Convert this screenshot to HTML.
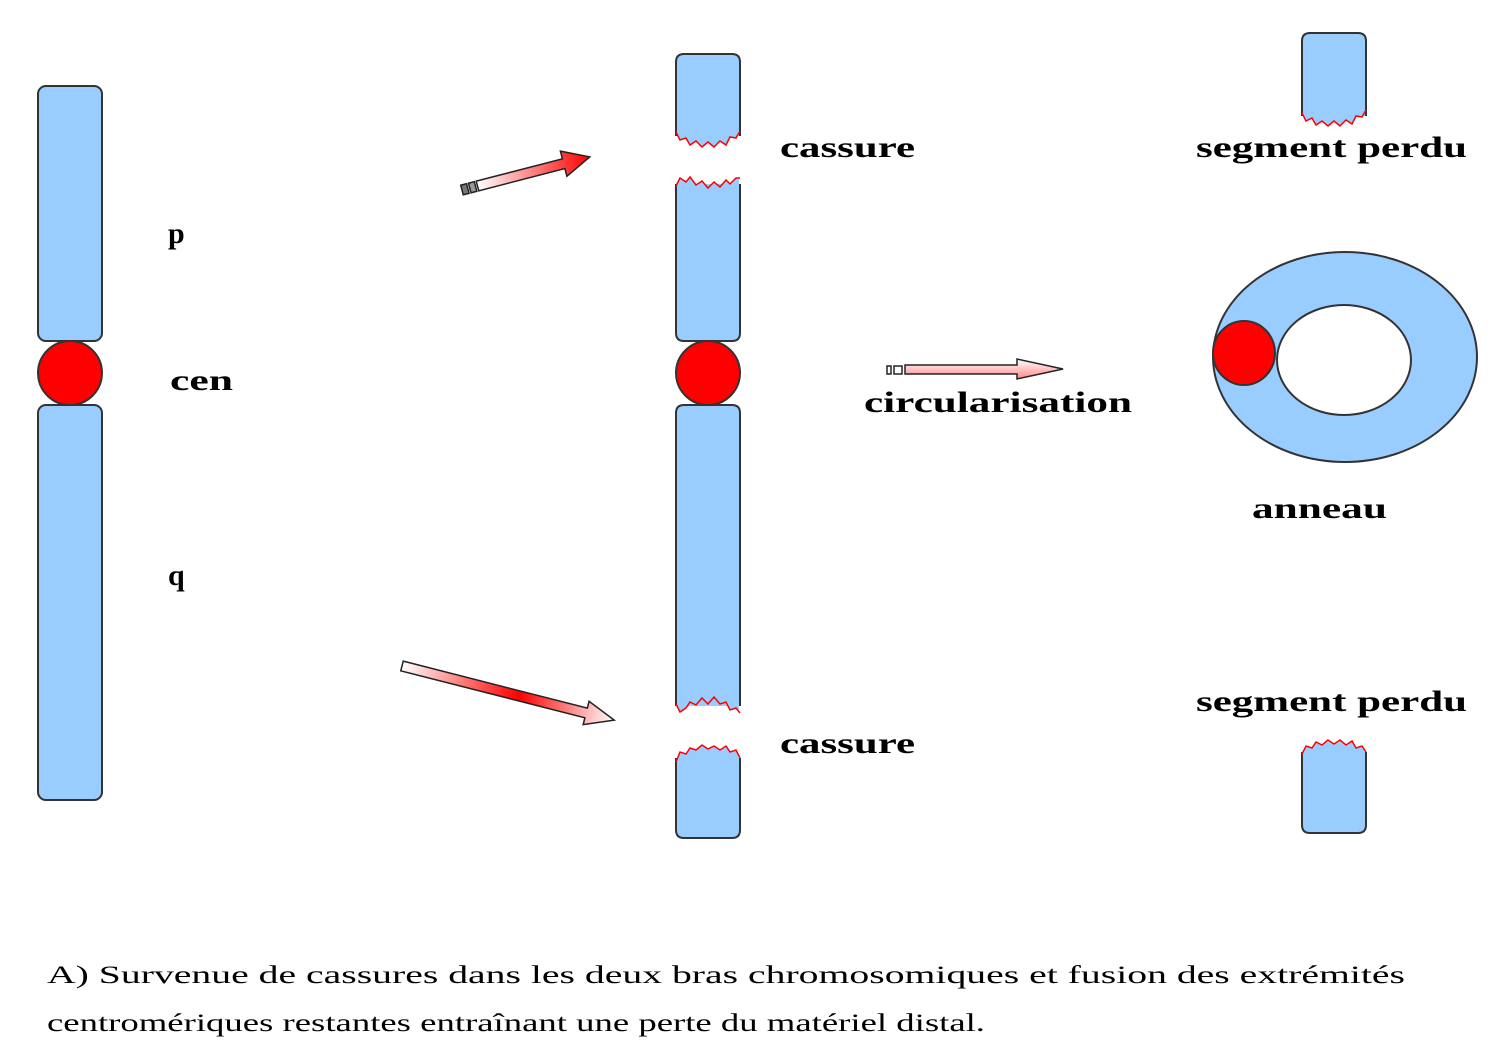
<!DOCTYPE html>
<html><head><meta charset="utf-8"><style>
html,body{margin:0;padding:0;background:#fff;width:1500px;height:1048px;overflow:hidden}
svg{display:block}
</style></head><body>
<svg width="1500" height="1048" viewBox="0 0 1500 1048" xmlns="http://www.w3.org/2000/svg">
<defs>
<linearGradient id="g1" x1="0" y1="0" x2="1" y2="0">
<stop offset="0" stop-color="#fff"/><stop offset="1" stop-color="#f00"/></linearGradient>
<linearGradient id="g2" x1="0" y1="0" x2="1" y2="0">
<stop offset="0" stop-color="#fff"/><stop offset="0.55" stop-color="#f00"/><stop offset="1" stop-color="#fff"/></linearGradient>
<linearGradient id="g3" x1="0" y1="0" x2="0" y2="1">
<stop offset="0" stop-color="#fff"/><stop offset="1" stop-color="#f88"/></linearGradient>
</defs>
<g stroke="#333" stroke-width="2" fill="#99ccff">
<rect x="38" y="86" width="64" height="255" rx="8"/>
<rect x="38" y="405" width="64" height="395" rx="8"/>
<circle cx="70" cy="373" r="32" fill="#f00"/>
<path d="M676,136 V62 Q676,54 684,54 H732 Q740,54 740,62 V136"/>
<path d="M676,184 V333 Q676,341 684,341 H732 Q740,341 740,333 V184"/>
<circle cx="708" cy="373" r="32" fill="#f00"/>
<path d="M676,706 V413 Q676,405 684,405 H732 Q740,405 740,413 V706"/>
<path d="M676,758 V830 Q676,838 684,838 H732 Q740,838 740,830 V758"/>
<path d="M1302,116 V41 Q1302,33 1310,33 H1358 Q1366,33 1366,41 V116"/>
<path d="M1302,752 V825 Q1302,833 1310,833 H1358 Q1366,833 1366,825 V752"/>
<ellipse cx="1345" cy="357" rx="132" ry="105"/>
<ellipse cx="1344" cy="360" rx="67" ry="55" fill="#fff"/>
<ellipse cx="1244" cy="353" rx="31" ry="32" fill="#f00"/>
</g>
<g fill="#99ccff" stroke="none">
<path d="M677,120 V132 L680,140 L686,138 L690,145 L696,141 L702,147 L708,142 L714,147 L720,141 L726,145 L730,137 L736,138 L739,131 V120 Z"/>
<path d="M677,200 V186 L680,178 L686,182 L690,177 L696,185 L702,181 L708,188 L714,182 L720,187 L726,180 L730,184 L736,178 L739,178 V200 Z"/>
<path d="M677,690 V704 L680,712 L686,708 L690,702 L696,705 L702,698 L708,704 L714,697 L720,704 L726,702 L730,710 L736,708 L739,713 V690 Z"/>
<path d="M677,775 V762 L680,752 L686,754 L690,748 L696,750 L702,745 L708,749 L714,746 L720,750 L726,746 L730,752 L736,750 L739,758 V775 Z"/>
<path d="M1303,100 V113 L1306,121 L1312,118 L1316,125 L1322,121 L1328,126 L1334,121 L1340,126 L1346,120 L1352,124 L1356,116 L1362,117 L1365,110 V100 Z"/>
<path d="M1303,770 V754 L1306,746 L1312,748 L1316,742 L1322,745 L1328,740 L1334,744 L1340,740 L1346,745 L1352,741 L1356,748 L1362,746 L1365,752 V770 Z"/>
</g>
<g stroke="#f00" stroke-width="1.5" fill="none">
<path d="M676,132 L680,140 L686,138 L690,145 L696,141 L702,147 L708,142 L714,147 L720,141 L726,145 L730,137 L736,138 L740,131"/>
<path d="M676,186 L680,178 L686,182 L690,177 L696,185 L702,181 L708,188 L714,182 L720,187 L726,180 L730,184 L736,178 L740,178"/>
<path d="M676,704 L680,712 L686,708 L690,702 L696,705 L702,698 L708,704 L714,697 L720,704 L726,702 L730,710 L736,708 L740,713"/>
<path d="M676,762 L680,752 L686,754 L690,748 L696,750 L702,745 L708,749 L714,746 L720,750 L726,746 L730,752 L736,750 L740,758"/>
<path d="M1302,113 L1306,121 L1312,118 L1316,125 L1322,121 L1328,126 L1334,121 L1340,126 L1346,120 L1352,124 L1356,116 L1362,117 L1366,110"/>
<path d="M1302,754 L1306,746 L1312,748 L1316,742 L1322,745 L1328,740 L1334,744 L1340,740 L1346,745 L1352,741 L1356,748 L1362,746 L1366,752"/>
</g>
<g stroke="#222" stroke-width="1.5">
<g transform="translate(462,190) rotate(-14.5)">
<rect x="0" y="-5" width="6" height="10" fill="#777"/><rect x="8" y="-5" width="6" height="10" fill="#999"/>
<path d="M16,-5 H105 V-13 L132,0 L105,13 V5 H16 Z" fill="url(#g1)"/>
</g>
<g transform="translate(402,666) rotate(14.3)">
<path d="M0,-5 H190 V-12 L219,0 L190,12 V5 H0 Z" fill="url(#g2)"/>
</g>
<g transform="translate(887,370)">
<rect x="0" y="-4" width="4" height="8" fill="#fff"/><rect x="7" y="-4" width="8" height="8" fill="#fff"/>
<path d="M18,-5 H130 V-11 L176,-1 L130,9 V4 H18 Z" fill="url(#g3)"/>
</g>
</g>
<g font-family="'Liberation Serif',serif" font-weight="bold" font-size="30" fill="#000">
<text x="780" y="157" textLength="135" lengthAdjust="spacingAndGlyphs">cassure</text>
<text x="780" y="753" textLength="135" lengthAdjust="spacingAndGlyphs">cassure</text>
<text x="1196" y="157" textLength="271" lengthAdjust="spacingAndGlyphs">segment perdu</text>
<text x="1196" y="711" textLength="271" lengthAdjust="spacingAndGlyphs">segment perdu</text>
<text x="168" y="243">p</text>
<text x="170" y="390" textLength="63" lengthAdjust="spacingAndGlyphs">cen</text>
<text x="168" y="585">q</text>
<text x="864" y="412" textLength="268" lengthAdjust="spacingAndGlyphs">circularisation</text>
<text x="1252" y="518" textLength="135" lengthAdjust="spacingAndGlyphs">anneau</text>
</g>
<g font-family="'Liberation Serif',serif" font-size="25" fill="#000">
<text x="47" y="983" textLength="1358" lengthAdjust="spacingAndGlyphs">A) Survenue de cassures dans les deux bras chromosomiques et fusion des extrémités</text>
<text x="47" y="1031" textLength="938" lengthAdjust="spacingAndGlyphs">centromériques restantes entraînant une perte du matériel distal.</text>
</g>
</svg>
</body></html>
